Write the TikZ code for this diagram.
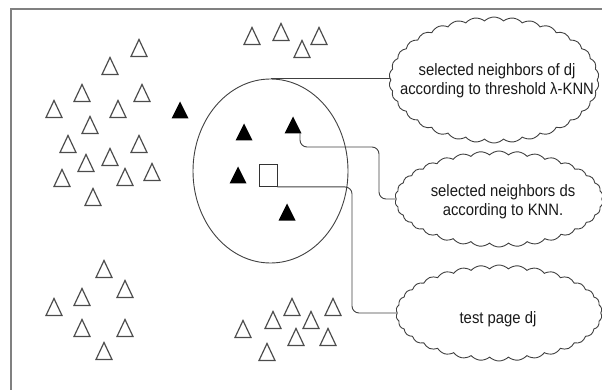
\documentclass[tikz,border=0pt]{standalone}
\usepackage{fontspec}
\newfontfamily\lbl[FakeStretch=0.9]{Liberation Sans}
\usetikzlibrary{shapes.geometric,shapes.symbols}
\begin{document}
\begin{tikzpicture}[x=1pt,y=-1pt,
 conn/.style={draw=black!75, line width=0.9pt, rounded corners=7pt},
 otri/.pic={\draw[black!70, line width=1.2pt, line join=miter] (-8,8.5) -- (0,-8.5) -- (8,8.5) -- cycle;},
 btri/.pic={\fill[black] (-8.5,8.5) -- (0,-8.5) -- (8.5,8.5) -- cycle;},
 cloudbox/.style={cloud, cloud puffs=34, cloud puff arc=90, draw=black!75, line width=0.9pt, inner sep=0pt},
 lab/.style={font=\lbl\fontsize{16.5}{19}\selectfont, align=center, text=black!90}]
\useasboundingbox (0,0) rectangle (602,390);
% frame
\draw[black!50, line width=1.5pt] (11,390) -- (11,9) -- (602,9);
% outline triangles
\foreach \p in {(139,48),(110,66),(82,93),(142,93),(54,109),(118,109),(90,125),
  (68,144),(139,144),(86,163),(110,157),(62,178),(125,177),(152,172),(93,197),
  (252,36),(281,32),(302,49),(319,36),
  (104,269),(125,289),(82,297),(54,307),(82,328),(125,328),(104,351),
  (243,329),(273,320),(292,307),(311,320),(333,307),(296,337),(328,337),(267,352)}
  \pic at \p {otri};
% black triangles
\pic at (180,110) {btri};
\pic at (244,132) {btri};
\pic at (293,125) {btri};
\pic at (238,175) {btri};
\pic at (287,212) {btri};
\coordinate (t2br) at (300,133);
% ellipse and square
\node[ellipse, draw=black!75, line width=0.9pt, minimum width=155pt, minimum height=184pt, inner sep=0pt] (circ) at (270.5,171) {};
\node[draw=black!80, line width=0.9pt, minimum width=18pt, minimum height=22pt, inner sep=0pt] (sq) at (268,175.5) {};
% clouds
\node[cloudbox, minimum width=210pt, minimum height=126pt] (c1) at (494,80) {};
\node[lab] at (497,81) {selected neighbors of dj\\according to threshold λ-KNN};
\node[cloudbox, minimum width=208pt, minimum height=96pt] (c2) at (499,199) {};
\node[lab] at (503,202) {selected neighbors ds\\according to KNN.};
\node[cloudbox, minimum width=206pt, minimum height=96pt] (c3) at (499,313) {};
\node[lab] at (498,319) {test page dj};
% connectors
\draw[conn] (circ.north) -- (circ.north -| c1.west);
\coordinate (k2) at (379,147);
\draw[conn] (t2br) |- (k2) |- (c2.west);
\coordinate (k3) at (352,250);
\draw[conn] (sq.south east) -| (k3) |- (c3.west);
\end{tikzpicture}
\end{document}
